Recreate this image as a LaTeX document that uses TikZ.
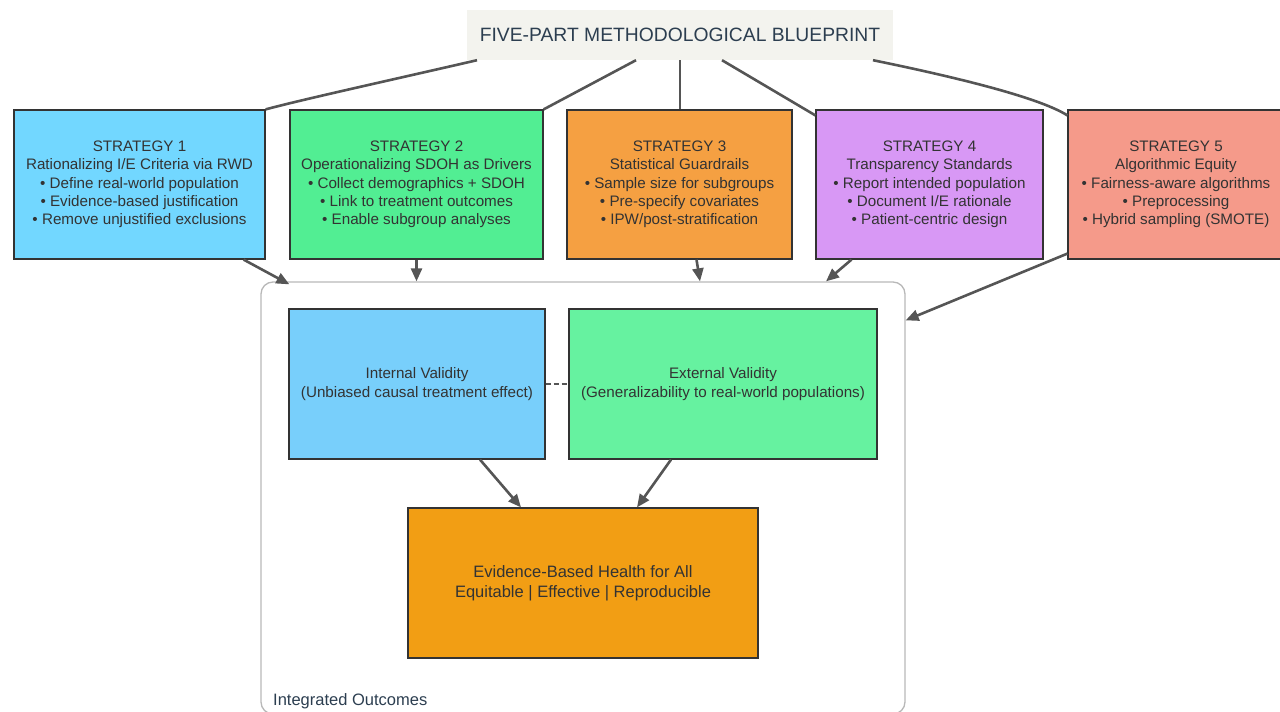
\documentclass[tikz,border=0pt]{standalone}
\usepackage{fontspec}
\setmainfont{Liberation Sans}
\usetikzlibrary{arrows.meta,calc}
\definecolor{txt}{HTML}{333333}
\definecolor{ttl}{HTML}{2C3E50}
\definecolor{edge}{HTML}{555555}
\definecolor{titlebg}{HTML}{F3F3EE}
\definecolor{cA}{HTML}{72D7FF}
\definecolor{cB}{HTML}{52EE93}
\definecolor{cC}{HTML}{F5A042}
\definecolor{cD}{HTML}{D898F5}
\definecolor{cE}{HTML}{F59A8A}
\definecolor{cF}{HTML}{78CFFB}
\definecolor{cG}{HTML}{66F2A0}
\definecolor{cH}{HTML}{F29E14}
\tikzset{
  box/.style={draw=black!80, line width=1.2pt, inner sep=0pt, align=center,
    text=txt, font=\fontsize{15.2}{18.3}\selectfont},
  link/.style={draw=edge, line width=2.6pt},
  arr/.style={link, -{Triangle[length=13pt,width=11pt]}},
}
\begin{document}
\begin{tikzpicture}[x=1pt,y=-1pt]
\useasboundingbox (0,0) rectangle (1280,712);
% title
\node[fill=titlebg, minimum width=426pt, minimum height=50pt, inner sep=0pt,
  text=ttl, font=\fontsize{19.3}{23}\selectfont] (title) at (680,35) {FIVE-PART METHODOLOGICAL BLUEPRINT};
% strategies
\node[box, fill=cA, minimum width=251pt, minimum height=149pt] (s1) at (139.5,184.5)
 {STRATEGY 1\\Rationalizing I/E Criteria via RWD\\• Define real-world population\\• Evidence-based justification\\• Remove unjustified exclusions};
\node[box, fill=cB, minimum width=253pt, minimum height=149pt] (s2) at (416.5,184.5)
 {STRATEGY 2\\Operationalizing SDOH as Drivers\\• Collect demographics + SDOH\\• Link to treatment outcomes\\• Enable subgroup analyses};
\node[box, fill=cC, minimum width=225pt, minimum height=149pt] (s3) at (679.5,184.5)
 {STRATEGY 3\\Statistical Guardrails\\• Sample size for subgroups\\• Pre-specify covariates\\• IPW/post-stratification};
\node[box, fill=cD, minimum width=227pt, minimum height=149pt] (s4) at (929.5,184.5)
 {STRATEGY 4\\Transparency Standards\\• Report intended population\\• Document I/E rationale\\• Patient-centric design};
\node[box, fill=cE, minimum width=216pt, minimum height=149pt] (s5) at (1176,184.5)
 {STRATEGY 5\\Algorithmic Equity\\• Fairness-aware algorithms\\• Preprocessing\\• Hybrid sampling (SMOTE)};
% cluster
\node[draw=black!28, line width=1.3pt, rounded corners=12pt, minimum width=644pt,
  minimum height=432pt, inner sep=0pt] (cl) at (583,498) {};
\node[anchor=west, text=ttl, font=\fontsize{16.5}{19}\selectfont, inner sep=0pt] (cllab) at (273,701) {Integrated Outcomes};
% inner nodes
\node[box, fill=cF, minimum width=256pt, minimum height=150pt] (iv) at (417,384)
 {Internal Validity\\(Unbiased causal treatment effect)};
\node[box, fill=cG, minimum width=308pt, minimum height=150pt] (ev) at (723,384)
 {External Validity\\(Generalizability to real-world populations)};
\node[box, fill=cH, minimum width=350pt, minimum height=150pt, font=\fontsize{16.5}{20}\selectfont] (eb) at (583,583)
 {Evidence-Based Health for All\\Equitable | Effective | Reproducible};
% title links
\draw[link] ([xshift=-203pt]title.south) .. controls (400,78) and (300,100) .. (s1.north east);
\draw[link] ([xshift=-44pt]title.south) -- (s2.north east);
\draw[link] (title.south) -- (s3.north -| title.south);
\draw[link] ([xshift=42pt]title.south) -- ([yshift=-6pt]s4.north west);
\draw[link] ([xshift=193pt]title.south) .. controls (960,78) and (1040,98) .. ([yshift=-6pt]s5.north west);
% arrows to cluster
\draw[arr] ([xshift=-22pt]s1.south east) -- ([xshift=29pt,yshift=-3pt]cl.north west);
\draw[arr] (s2.south) -- (s2.south |- cl.north);
\draw[arr] ([xshift=17pt]s3.south) -- ([xshift=117pt]cl.north);
\draw[arr] ([xshift=-78pt]s4.south) -- ([xshift=243pt]cl.north);
\draw[arr] ([yshift=6pt]s5.south west) -- ([yshift=-39pt]cl.north east);
% dashed
\draw[draw=edge, line width=2.6pt, dash pattern=on 5pt off 3pt] (iv.east) -- (ev.west);
% to evidence
\draw[arr] ([xshift=63pt]iv.south) -- ([xshift=-62pt]eb.north);
\draw[arr] ([xshift=-52pt]ev.south) -- ([xshift=54pt]eb.north);
\end{tikzpicture}
\end{document}
